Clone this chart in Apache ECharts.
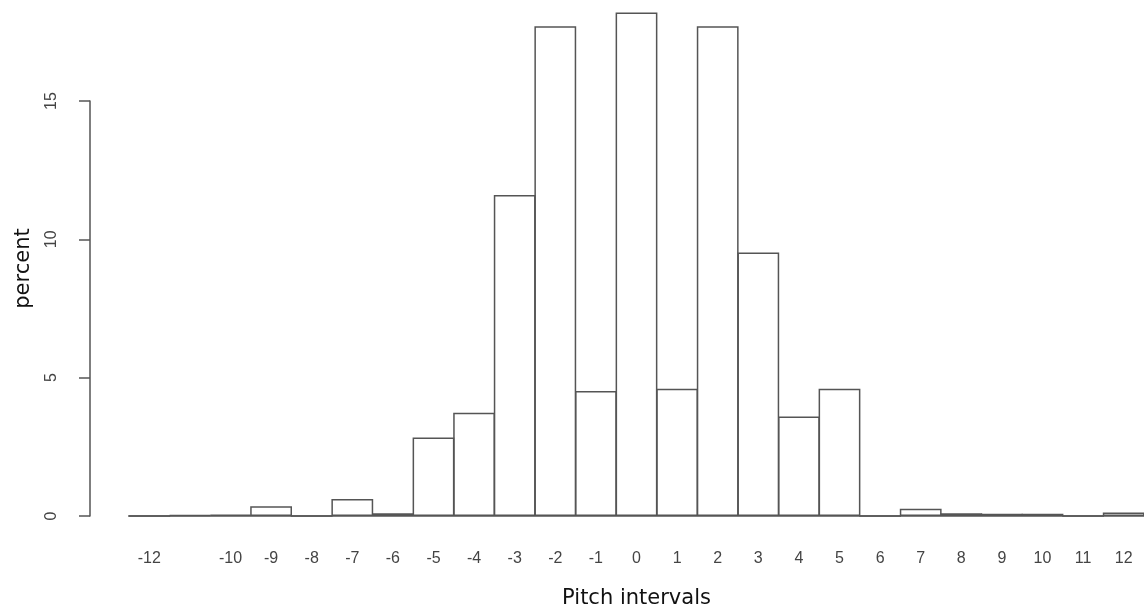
<!DOCTYPE html>
<html>
<head>
<meta charset="utf-8">
<title>Pitch intervals</title>
<script src="https://cdn.jsdelivr.net/npm/echarts@6/dist/echarts.min.js"></script>
<style>
	html, body { margin: 0; padding: 0; background: #fff; }
	#chartId { width: 1144px; height: 614px; }
</style>
</head>
<body>
<div id="chartId"></div>
<script>
// 数据
var categories = ['-12', '-11', '-10', '-9', '-8', '-7', '-6', '-5', '-4', '-3', '-2', '-1', '0',
	'1', '2', '3', '4', '5', '6', '7', '8', '9', '10', '11', '12'];
var percentValues = [0, 0.04, 0.05, 0.35, 0, 0.61, 0.1, 2.84, 3.73, 11.6, 17.7, 4.52, 18.2,
	4.6, 17.7, 9.52, 3.6, 4.6, 0, 0.26, 0.1, 0.08, 0.08, 0, 0.13];
var hiddenLabels = ['-11'];
var yMin = 0;
var yMax = 15;
var yStep = 5;

var myChart = echarts.init(document.getElementById("chartId"));

var option = {
	backgroundColor: '#fff',
	animation: false,
	grid: {
		left: 129,
		right: 0,
		top: 101,
		bottom: 96
	},
	xAxis: {
		type: 'category',
		data: categories,
		name: 'Pitch intervals',
		nameLocation: 'middle',
		nameGap: 72,
		nameTextStyle: {
			fontFamily: 'DejaVu Sans',
			fontSize: 21,
			color: '#111'
		},
		axisLine: {
			show: true,
			lineStyle: {
				color: '#555',
				width: 1.5
			}
		},
		axisTick: {
			show: false
		},
		axisLabel: {
			show: true,
			margin: 35,
			interval: function(index, value) {
				return hiddenLabels.indexOf(value) == -1;
			},
			fontFamily: 'Liberation Sans',
			fontSize: 16,
			color: '#444'
		},
		splitLine: {
			show: false
		}
	},
	yAxis: {
		type: 'value',
		min: yMin,
		max: yMax,
		interval: yStep,
		offset: 39,
		name: 'percent',
		nameLocation: 'middle',
		nameGap: 56,
		nameRotate: 90,
		nameTextStyle: {
			fontFamily: 'DejaVu Sans',
			fontSize: 21,
			color: '#111',
			padding: [0, 0, 0, 80]
		},
		axisLine: {
			show: true,
			lineStyle: {
				color: '#555',
				width: 1.5
			}
		},
		axisTick: {
			show: true,
			length: 11,
			lineStyle: {
				color: '#555',
				width: 1.5
			}
		},
		axisLabel: {
			show: true,
			rotate: 90,
			margin: 30,
			fontFamily: 'Liberation Sans',
			fontSize: 16,
			color: '#444'
		},
		splitLine: {
			show: false
		}
	},
	series: [{
		name: 'percent',
		type: 'bar',
		clip: false,
		barWidth: 41.8,
		itemStyle: {
			color: 'rgba(255,255,255,0)',
			borderColor: '#555',
			borderWidth: 1.5
		},
		data: percentValues
	}]
};

myChart.setOption(option);
</script>
</body>
</html>
